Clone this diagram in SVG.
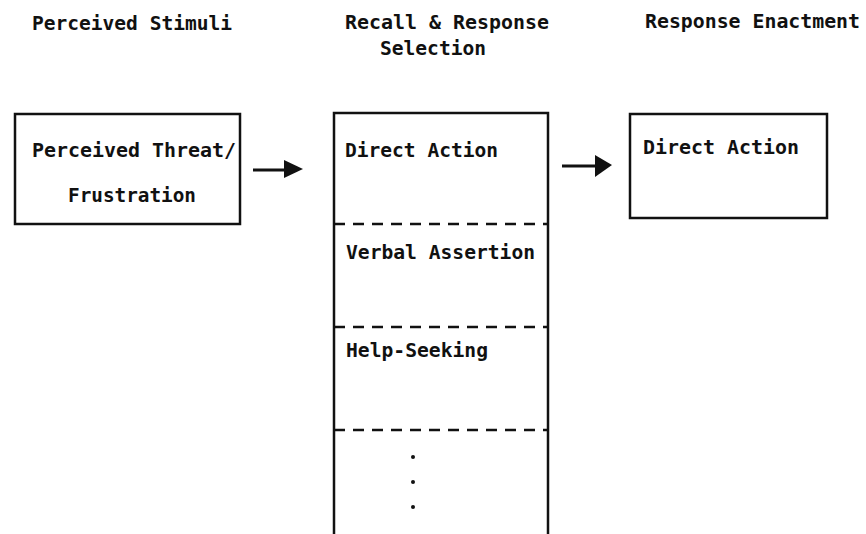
<svg xmlns="http://www.w3.org/2000/svg" width="866" height="534" viewBox="0 0 866 534">
<style>
text{font-family:"DejaVu Sans Mono","Liberation Mono",monospace;font-weight:bold;font-size:20px;fill:#111}
.box{fill:none;stroke:#111;stroke-width:2.5}
.dash{fill:none;stroke:#111;stroke-width:2.5;stroke-dasharray:11 8}
.conn{fill:none;stroke:#111;stroke-width:3}
</style>
<defs>
<marker id="ah" markerWidth="8" markerHeight="8" refX="1" refY="4" orient="auto" markerUnits="userSpaceOnUse" viewBox="0 0 8 8">
<path d="M0,0 L8,4 L0,8 z" fill="#111"/>
</marker>
</defs>
<rect width="866" height="534" fill="#fff"/>
<g id="headers">
<text x="32" y="30" textLength="200" lengthAdjust="spacingAndGlyphs">Perceived Stimuli</text>
<text x="345" y="29" textLength="204" lengthAdjust="spacingAndGlyphs">Recall &amp; Response</text>
<text x="380" y="55" textLength="106" lengthAdjust="spacingAndGlyphs">Selection</text>
<text x="645" y="28" textLength="215" lengthAdjust="spacingAndGlyphs">Response Enactment</text>
</g>
<g id="node-threat">
<rect class="box" x="15" y="114" width="225" height="110"/>
<text x="32" y="157" textLength="204" lengthAdjust="spacingAndGlyphs">Perceived Threat/</text>
<text x="68" y="202" textLength="128" lengthAdjust="spacingAndGlyphs">Frustration</text>
</g>
<g id="node-selection">
<path class="box" d="M334,534 V113 H548 V534"/>
<line class="dash" x1="334" y1="224" x2="548" y2="224"/>
<line class="dash" x1="334" y1="327" x2="548" y2="327"/>
<line class="dash" x1="334" y1="430" x2="548" y2="430"/>
<text x="345" y="157" textLength="153" lengthAdjust="spacingAndGlyphs">Direct Action</text>
<text x="346" y="259" textLength="189" lengthAdjust="spacingAndGlyphs">Verbal Assertion</text>
<text x="346" y="357" textLength="142" lengthAdjust="spacingAndGlyphs">Help-Seeking</text>
<circle cx="413" cy="457" r="2" fill="#111"/>
<circle cx="413" cy="482" r="2" fill="#111"/>
<circle cx="413" cy="507" r="2" fill="#111"/>
</g>
<g id="node-enactment">
<rect class="box" x="630" y="114" width="197" height="104"/>
<text x="643" y="154" textLength="156" lengthAdjust="spacingAndGlyphs">Direct Action</text>
</g>
<g id="connectors">
<path d="M253,170 H286" class="conn"/>
<path d="M284,160 L303,169 L284,178 z" fill="#111"/>
<path d="M562,166 H597" class="conn"/>
<path d="M595,155 L612,165 L595,177 z" fill="#111"/>
</g>
</svg>
